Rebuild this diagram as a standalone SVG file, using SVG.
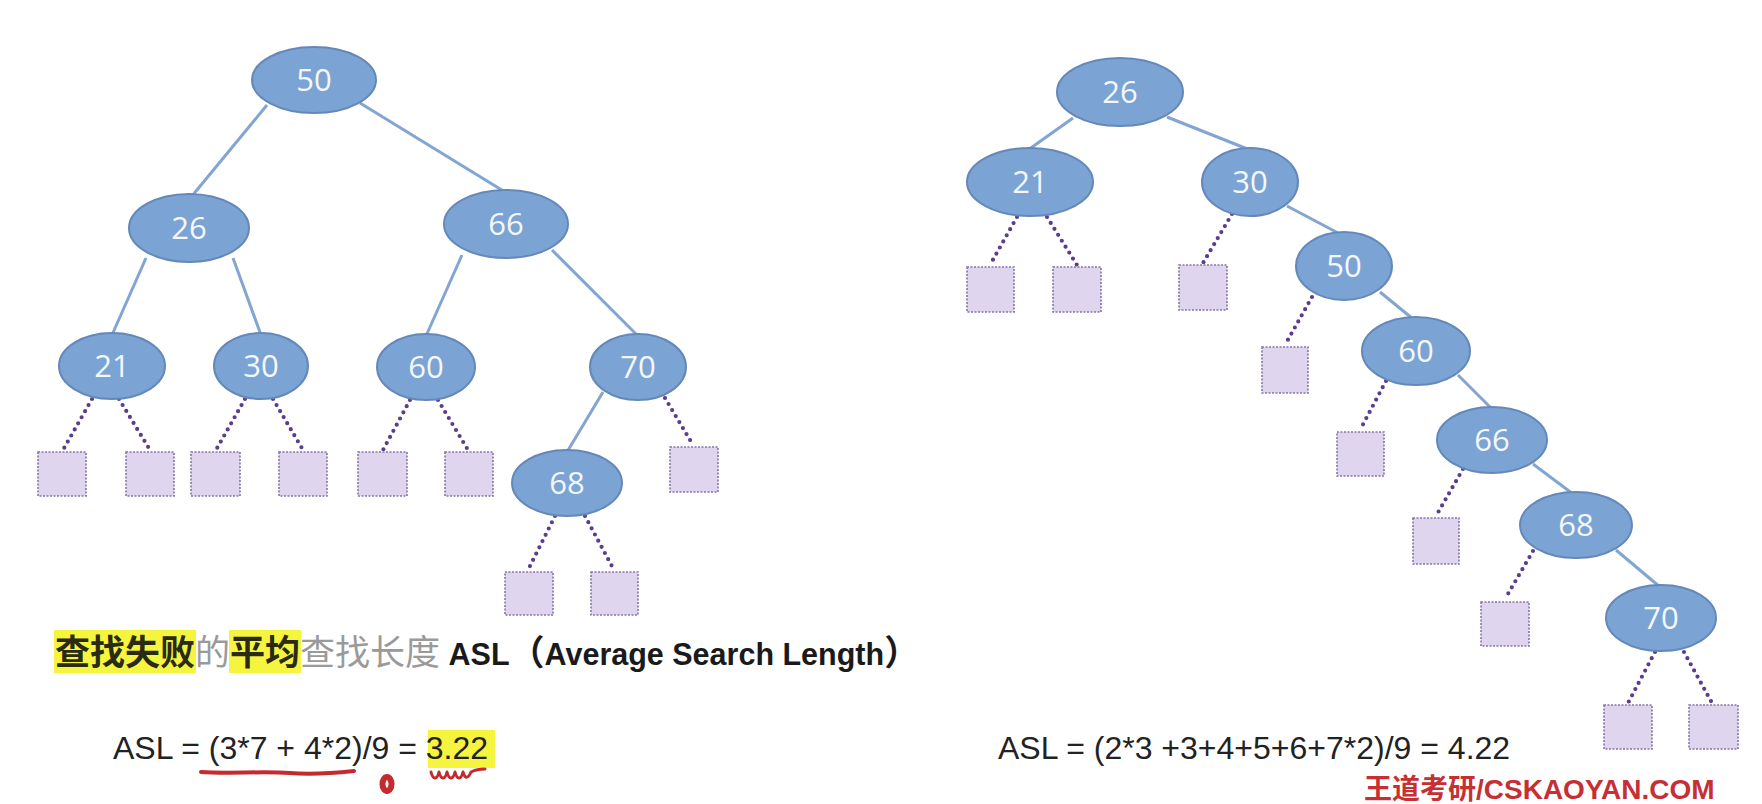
<svg xmlns="http://www.w3.org/2000/svg" width="1762" height="804" viewBox="0 0 1762 804">
<style>
.node ellipse{fill:#7ba3d4;stroke:#6488ba;stroke-width:2}
.node text{fill:#f4f7fc;font-family:"Open Sans","Liberation Sans",sans-serif;font-size:31px;text-anchor:middle}
.leaf rect{fill:#e0d5ee;stroke:#8676a8;stroke-width:1.6;stroke-dasharray:2 1.5}
.edge{stroke:#82a5d1;stroke-width:3;fill:none}
.dot{stroke:#5b3d8e;stroke-width:4.2;stroke-linecap:round;stroke-dasharray:0 7;fill:none}
.hl{fill:#2b2b14;font-weight:700}
.gr{fill:#9a9a9a;font-weight:400}
.lat{fill:#1a1a1a;font-family:"Liberation Sans",sans-serif;font-weight:700;font-size:30.5px}
.bk{fill:#1a1a1a;font-weight:700}
.formula{font-family:"Liberation Sans",sans-serif;font-size:32px;fill:#222}
.red{stroke:#c42a2e;fill:none;stroke-linecap:round;stroke-linejoin:round}
</style>

<!-- connectors -->
<g id="connectors">
  <!-- left tree solid -->
  <line class="edge" x1="267" y1="105" x2="192" y2="196"/>
  <line class="edge" x1="360" y1="103" x2="505" y2="192"/>
  <line class="edge" x1="146" y1="258" x2="112" y2="335"/>
  <line class="edge" x1="233" y1="258" x2="261" y2="335"/>
  <line class="edge" x1="462" y1="255" x2="426" y2="336"/>
  <line class="edge" x1="552" y1="250" x2="638" y2="336"/>
  <line class="edge" x1="603" y1="392" x2="567" y2="452"/>
  <!-- left tree dotted -->
  <line class="dot" x1="92" y1="399" x2="63" y2="450"/>
  <line class="dot" x1="119" y1="399" x2="150" y2="450"/>
  <line class="dot" x1="245" y1="399" x2="216" y2="450"/>
  <line class="dot" x1="273" y1="399" x2="303" y2="450"/>
  <line class="dot" x1="410" y1="400" x2="383" y2="450"/>
  <line class="dot" x1="438" y1="400" x2="468" y2="450"/>
  <line class="dot" x1="665" y1="398" x2="693" y2="445"/>
  <line class="dot" x1="555" y1="516" x2="528" y2="570"/>
  <line class="dot" x1="585" y1="516" x2="614" y2="570"/>
  <!-- right tree solid -->
  <line class="edge" x1="1073" y1="118" x2="1028" y2="150"/>
  <line class="edge" x1="1167" y1="117" x2="1250" y2="150"/>
  <line class="edge" x1="1287" y1="206" x2="1340" y2="234"/>
  <line class="edge" x1="1380" y1="292" x2="1413" y2="319"/>
  <line class="edge" x1="1458" y1="375" x2="1492" y2="409"/>
  <line class="edge" x1="1533" y1="464" x2="1573" y2="494"/>
  <line class="edge" x1="1616" y1="550" x2="1660" y2="587"/>
  <!-- right tree dotted -->
  <line class="dot" x1="1017" y1="217" x2="990" y2="265"/>
  <line class="dot" x1="1047" y1="217" x2="1077" y2="265"/>
  <line class="dot" x1="1232" y1="214" x2="1203" y2="263"/>
  <line class="dot" x1="1312" y1="297" x2="1285" y2="345"/>
  <line class="dot" x1="1386" y1="381" x2="1360" y2="430"/>
  <line class="dot" x1="1463" y1="469" x2="1436" y2="516"/>
  <line class="dot" x1="1533" y1="551" x2="1505" y2="599"/>
  <line class="dot" x1="1655" y1="652" x2="1628" y2="703"/>
  <line class="dot" x1="1684" y1="652" x2="1712" y2="703"/>
</g>

<!-- left tree nodes -->
<g id="L50" class="node"><ellipse cx="314" cy="80" rx="62" ry="33"/><text x="314" y="91">50</text></g>
<g id="L26" class="node"><ellipse cx="189" cy="228" rx="60" ry="34"/><text x="189" y="239">26</text></g>
<g id="L66" class="node"><ellipse cx="506" cy="224" rx="62" ry="34"/><text x="506" y="235">66</text></g>
<g id="L21" class="node"><ellipse cx="112" cy="366" rx="53" ry="33"/><text x="112" y="377">21</text></g>
<g id="L30" class="node"><ellipse cx="261" cy="366" rx="47" ry="33"/><text x="261" y="377">30</text></g>
<g id="L60" class="node"><ellipse cx="426" cy="367" rx="49" ry="33"/><text x="426" y="378">60</text></g>
<g id="L70" class="node"><ellipse cx="638" cy="367" rx="48" ry="33"/><text x="638" y="378">70</text></g>
<g id="L68" class="node"><ellipse cx="567" cy="483" rx="55" ry="33"/><text x="567" y="494">68</text></g>

<!-- left tree leaves -->
<g id="Lf1" class="leaf"><rect x="38" y="452" width="48" height="44"/></g>
<g id="Lf2" class="leaf"><rect x="126" y="452" width="48" height="44"/></g>
<g id="Lf3" class="leaf"><rect x="191" y="452" width="49" height="44"/></g>
<g id="Lf4" class="leaf"><rect x="279" y="452" width="48" height="44"/></g>
<g id="Lf5" class="leaf"><rect x="358" y="452" width="49" height="44"/></g>
<g id="Lf6" class="leaf"><rect x="445" y="452" width="48" height="44"/></g>
<g id="Lf7" class="leaf"><rect x="670" y="447" width="48" height="45"/></g>
<g id="Lf8" class="leaf"><rect x="505" y="572" width="48" height="43"/></g>
<g id="Lf9" class="leaf"><rect x="591" y="572" width="47" height="43"/></g>

<!-- right tree nodes -->
<g id="R26" class="node"><ellipse cx="1120" cy="92" rx="63" ry="34"/><text x="1120" y="103">26</text></g>
<g id="R21" class="node"><ellipse cx="1030" cy="182" rx="63" ry="34"/><text x="1030" y="193">21</text></g>
<g id="R30" class="node"><ellipse cx="1250" cy="182" rx="48" ry="34"/><text x="1250" y="193">30</text></g>
<g id="R50" class="node"><ellipse cx="1344" cy="266" rx="48" ry="34"/><text x="1344" y="277">50</text></g>
<g id="R60" class="node"><ellipse cx="1416" cy="351" rx="54" ry="34"/><text x="1416" y="362">60</text></g>
<g id="R66" class="node"><ellipse cx="1492" cy="440" rx="55" ry="33"/><text x="1492" y="451">66</text></g>
<g id="R68" class="node"><ellipse cx="1576" cy="525" rx="56" ry="33"/><text x="1576" y="536">68</text></g>
<g id="R70" class="node"><ellipse cx="1661" cy="618" rx="55" ry="33"/><text x="1661" y="629">70</text></g>

<!-- right tree leaves -->
<g id="Rf1" class="leaf"><rect x="967" y="267" width="47" height="45"/></g>
<g id="Rf2" class="leaf"><rect x="1053" y="267" width="48" height="45"/></g>
<g id="Rf3" class="leaf"><rect x="1179" y="265" width="48" height="45"/></g>
<g id="Rf4" class="leaf"><rect x="1262" y="347" width="46" height="46"/></g>
<g id="Rf5" class="leaf"><rect x="1337" y="432" width="47" height="44"/></g>
<g id="Rf6" class="leaf"><rect x="1413" y="518" width="46" height="46"/></g>
<g id="Rf7" class="leaf"><rect x="1481" y="602" width="48" height="44"/></g>
<g id="Rf8" class="leaf"><rect x="1604" y="705" width="48" height="44"/></g>
<g id="Rf9" class="leaf"><rect x="1689" y="705" width="49" height="44"/></g>

<!-- caption -->
<g id="caption">
  <rect x="54" y="630" width="142" height="43" fill="#f5f43f"/>
  <rect x="229" y="630" width="72" height="43" fill="#f5f43f"/>
  <text x="55" y="665" font-size="35" font-family="'Noto Sans CJK SC',sans-serif"><tspan class="hl">查找失败</tspan><tspan class="gr">的</tspan><tspan class="hl">平均</tspan><tspan class="gr">查找长度</tspan><tspan class="lat"> ASL</tspan><tspan class="bk">（</tspan><tspan class="lat">Average Search Length</tspan><tspan class="bk">）</tspan></text>
</g>

<!-- left formula -->
<g id="formula-left">
  <rect x="428" y="730" width="67" height="38" fill="#f5f43f"/>
  <text class="formula" x="113" y="759">ASL = (3*7 + 4*2)/9 = 3.22</text>
  <path class="red" stroke-width="4" d="M201,772 C230,774 260,771 290,773 C315,775 335,773 354,771"/>
  <ellipse class="red" stroke-width="6" cx="387" cy="784" rx="4.5" ry="7"/>
  <path class="red" stroke-width="3" d="M431,772 c2,8 6,8 8,0 c2,8 6,8 8,0 c2,8 6,8 8,0 c2,8 6,8 8,0 c2,7 5,7 8,0 c4,-2 9,-3 14,-3"/>
</g>

<!-- right formula -->
<g id="formula-right">
  <text class="formula" x="998" y="759">ASL = (2*3 +3+4+5+6+7*2)/9 = 4.22</text>
</g>

<!-- watermark -->
<text x="1364" y="799" font-size="28" font-weight="700" fill="#c63033" font-family="'Liberation Sans','Noto Sans CJK SC',sans-serif">王道考研/CSKAOYAN.COM</text>
</svg>
